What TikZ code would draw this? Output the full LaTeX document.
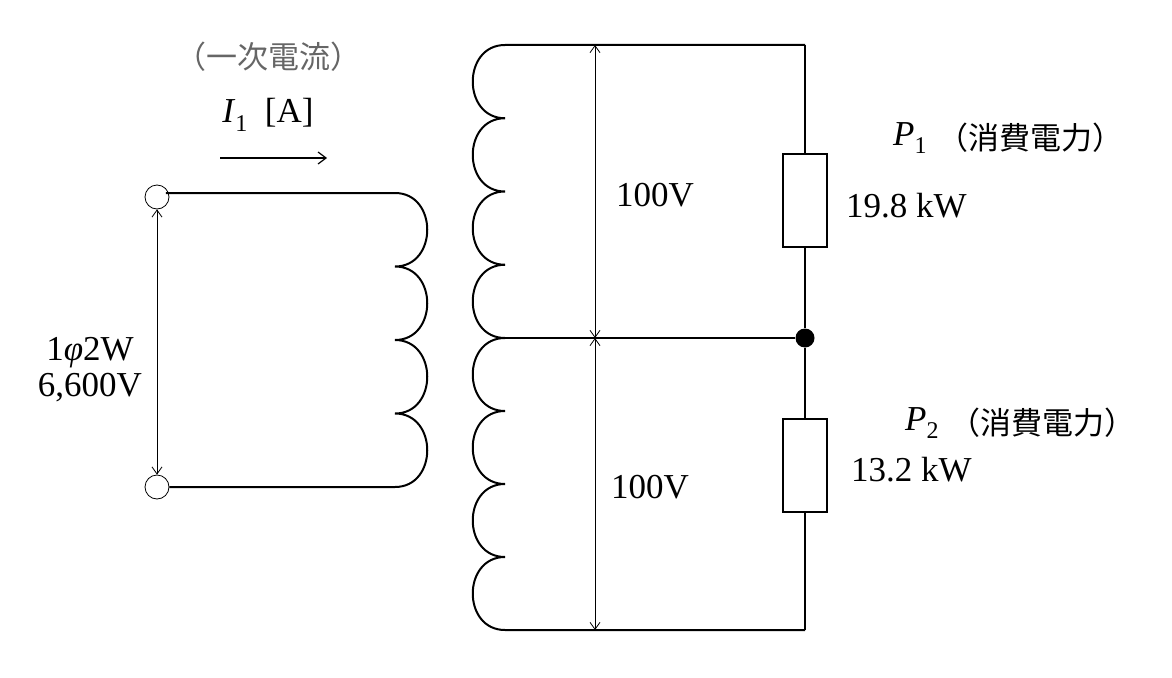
\documentclass[tikz,border=0pt]{standalone}
\usepackage{fontspec}
\setmainfont{Liberation Serif}
\newfontfamily\cjk{Noto Sans CJK JP}
\usetikzlibrary{arrows.meta}
\newcommand{\mysub}[1]{\raisebox{-0.25em}{\fontsize{24}{28}\selectfont #1}}
\begin{document}
\begin{tikzpicture}[x=1pt,y=-1pt,
  wire/.style={line width=2pt},
  dim/.style={line width=0.8pt,{Straight Barb[length=7pt,width=10pt]}-{Straight Barb[length=7pt,width=10pt]}},
  lbl/.style={font=\fontsize{35}{40}\selectfont,inner sep=0pt},
  jp/.style={font=\fontsize{31}{36}\selectfont\cjk,inner sep=0pt},
  res/.style={draw,line width=2pt,fill=white,minimum width=44pt,minimum height=93pt,inner sep=0pt}]
\useasboundingbox (0,0) rectangle (1172,677);
% terminals
\node[draw,circle,line width=0.8pt,minimum size=24pt,inner sep=0pt] (t1) at (157,197) {};
\node[draw,circle,line width=0.8pt,minimum size=24pt,inner sep=0pt] (t2) at (157,487) {};
\coordinate (p1) at (395,193);
\draw[wire] (t1.north east |- p1) -- (p1)
  .. controls +(43,0) and +(43,0) .. ++(0,73.5)
  .. controls +(43,0) and +(43,0) .. ++(0,73.5)
  .. controls +(43,0) and +(43,0) .. ++(0,73.5)
  .. controls +(43,0) and +(43,0) .. ++(0,73.5) -- (t2.east);
\draw[dim] (t1.south) -- (t2.north);
% secondary
\coordinate (s0) at (505,45);
\coordinate (sm) at (505,338);
\coordinate (r0) at (805,45);
\coordinate (r2) at (805,630);
\draw[wire] (r0) -- (s0)
  .. controls +(-43,0) and +(-43,0) .. ++(0,73.25)
  .. controls +(-43,0) and +(-43,0) .. ++(0,73.25)
  .. controls +(-43,0) and +(-43,0) .. ++(0,73.25)
  .. controls +(-43,0) and +(-43,0) .. ++(0,73.25)
  .. controls +(-43,0) and +(-43,0) .. ++(0,73)
  .. controls +(-43,0) and +(-43,0) .. ++(0,73)
  .. controls +(-43,0) and +(-43,0) .. ++(0,73)
  .. controls +(-43,0) and +(-43,0) .. ++(0,73) -- (r2);
\node[circle,fill=black,minimum size=19pt,inner sep=0pt] (dot) at (805,338) {};
\draw[wire] (sm) -- (dot);
\node[res] (R1) at (805,200) {};
\node[res] (R2) at (805,465) {};
\draw[wire] (r0) -- (R1.north) (R1.south) -- (dot) -- (R2.north) (R2.south) -- (r2);
\coordinate (v0) at (595,45);
\coordinate (vm) at (595,338);
\coordinate (v2) at (595,630);
\draw[dim] (v0) -- (vm);
\draw[dim] (vm) -- (v2);
% current arrow
\coordinate (c0) at (220,158);
\coordinate (c1) at (327,158);
\draw[line width=1.2pt,-{Straight Barb[length=8pt,width=12pt]}] (c0) -- (c1);
% labels
\node[jp,text=black!60] (l1) at (268,57) {（一次電流）};
\node[lbl] (l2) at (268,115) {\textit{I}\mysub{1}\ \ [A]};
\node[lbl] (l3) at (90,353) {1\textit{φ}2W};
\node[lbl] (l4) at (90,388) {6,600V};
\node[lbl] (l5) at (655,195) {100V};
\node[lbl] (l6) at (650,487) {100V};
\node[lbl,anchor=west] (l7) at (893,138) {\textit{P}\mysub{1}};
\node[jp,anchor=west] (l7b) at (937,138) {（消費電力）};
\node[lbl,anchor=west] (l8) at (846,206) {19.8 kW};
\node[lbl,anchor=west] (l9) at (905,423) {\textit{P}\mysub{2}};
\node[jp,anchor=west] (l9b) at (949,423) {（消費電力）};
\node[lbl,anchor=west] (l10) at (851,470) {13.2 kW};
\end{tikzpicture}
\end{document}
